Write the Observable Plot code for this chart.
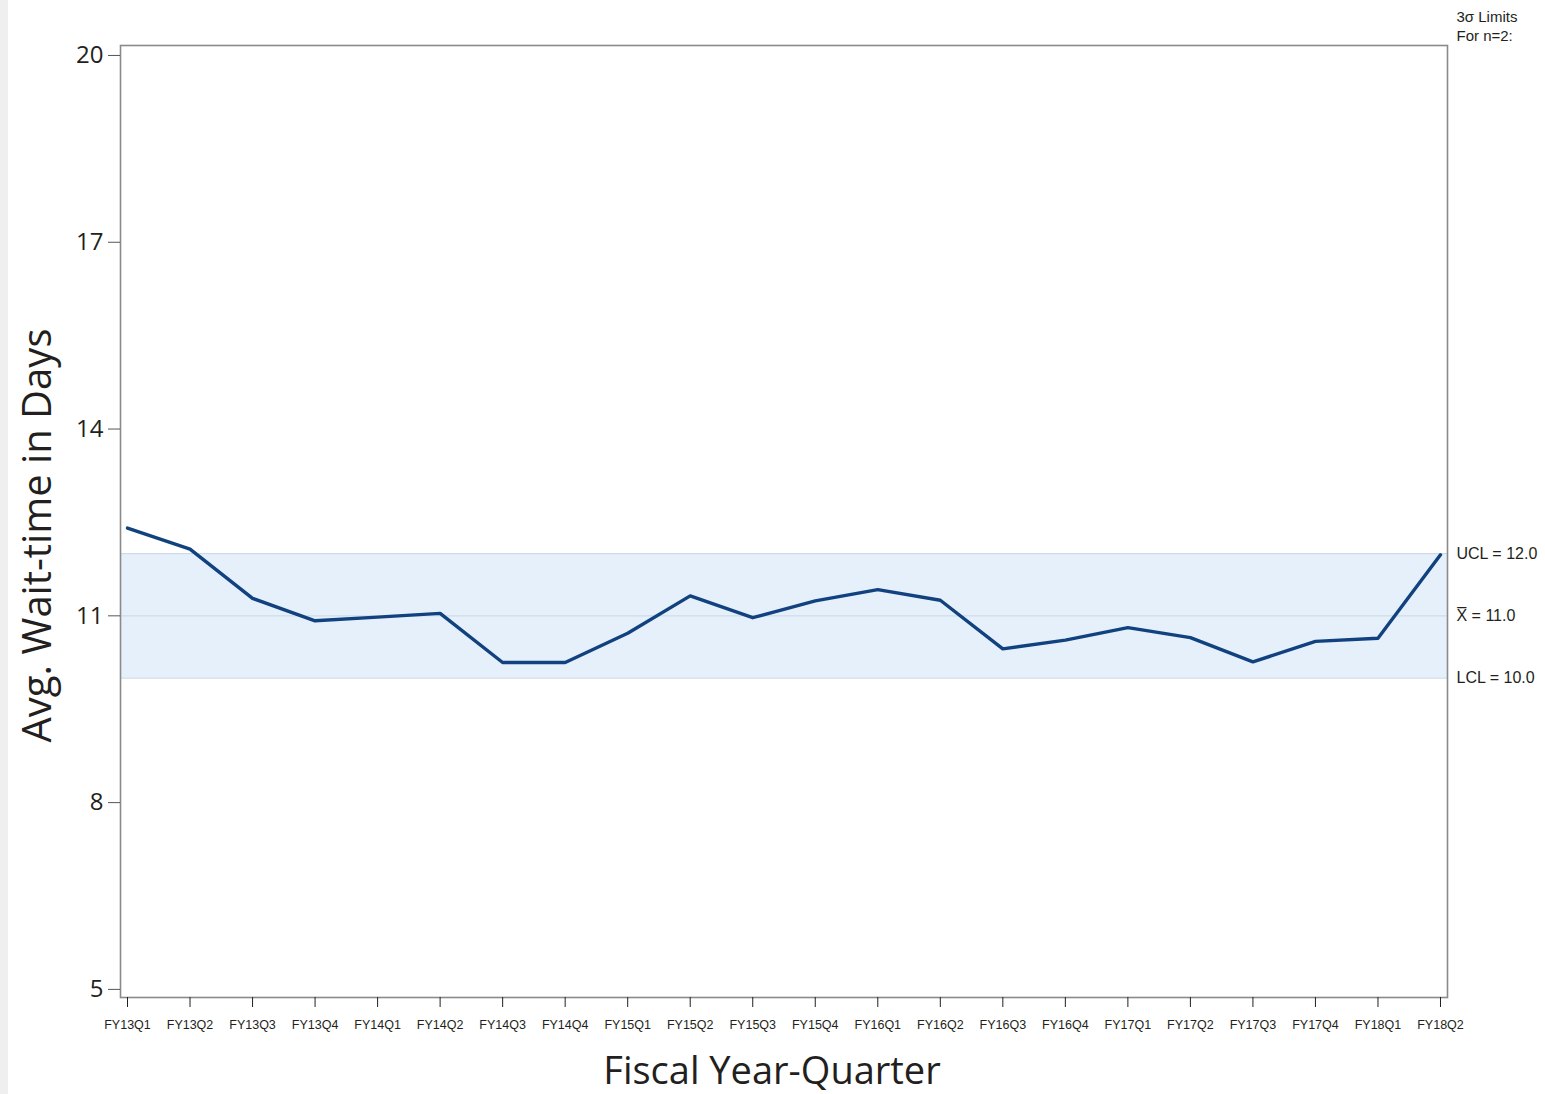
<!DOCTYPE html>
<html>
<head>
<meta charset="utf-8">
<script src="https://cdn.jsdelivr.net/npm/d3@7"></script>
<script src="https://cdn.jsdelivr.net/npm/@observablehq/plot@0.6"></script>
<style>
  html, body { margin: 0; padding: 0; background: #ffffff; }
  #strip { position: absolute; left: 0; top: 0; width: 8px; height: 1094px; background: #efefef; }
  #chart { position: absolute; left: 0; top: 0; }
</style>
</head>
<body>
<div id="chart"></div>
<div id="strip"></div>
<script>
const quarters = ["FY13Q1","FY13Q2","FY13Q3","FY13Q4","FY14Q1","FY14Q2","FY14Q3","FY14Q4","FY15Q1","FY15Q2","FY15Q3","FY15Q4","FY16Q1","FY16Q2","FY16Q3","FY16Q4","FY17Q1","FY17Q2","FY17Q3","FY17Q4","FY18Q1","FY18Q2"];
const waitDays = [12.41,12.07,11.28,10.92,10.98,11.04,10.25,10.25,10.72,11.32,10.97,11.24,11.42,11.25,10.47,10.61,10.81,10.65,10.26,10.59,10.64,11.98];
const yTicks = [5, 8, 11, 14, 17, 20];
const UCL = 12.0, MEAN = 11.0, LCL = 10.0;
const limitLabels = ["UCL = 12.0", "X\u0305 = 11.0", "LCL = 10.0"];
const limitValues = [UCL, MEAN, LCL];
const cornerNote = "3\u03c3 Limits\nFor n=2:";
const xTitle = "Fiscal Year-Quarter";
const yTitle = "Avg. Wait-time in Days";

const data = quarters.map((q, i) => ({q, v: waitDays[i]}));
const limits = limitValues.map((v, i) => ({v, label: limitLabels[i]}));

const narrow = "'Liberation Sans Narrow', 'Arial Narrow', sans-serif";
const sans = "'Open Sans', 'Noto Sans', sans-serif";

const chart = Plot.plot({
  width: 1545,
  height: 1094,
  marginLeft: 120,
  marginRight: 98,
  marginTop: 45,
  marginBottom: 97,
  style: {background: "transparent", color: "#231f20"},
  x: {type: "point", domain: quarters, padding: 0.112, round: false, label: null},
  y: {domain: [4.87, 20.16], label: null},
  marks: [
    Plot.rect([{}], {y1: LCL, y2: UCL, fill: "#e5f0fb"}),
    Plot.ruleY(limitValues, {stroke: "#cfdbe8", strokeWidth: 1.2}),
    Plot.line(data, {x: "q", y: "v", stroke: "#11427f", strokeWidth: 3.4, strokeLinejoin: "round"}),
    Plot.frame({stroke: "#8a8a8a", strokeWidth: 1.6}),
    Plot.axisY({ticks: yTicks, tickSize: 12, tickPadding: 5, fontSize: 24, fontFamily: sans, label: null, stroke: "#555"}),
    Plot.axisX({tickSize: 10, tickPadding: 13, fontSize: 12.5, fontFamily: narrow, label: null}),
    Plot.text(limits, {y: "v", text: "label", frameAnchor: "right", dx: 9, textAnchor: "start", fontSize: 16, fontFamily: narrow, fill: "#231f20"}),
    Plot.text([cornerNote], {frameAnchor: "top-right", dx: 9, dy: -37, textAnchor: "start", lineAnchor: "top", lineHeight: 1.25, fontSize: 15, fontFamily: narrow, fill: "#231f20"}),
    Plot.text([xTitle], {frameAnchor: "bottom", dx: -12, dy: 86, textAnchor: "middle", fontSize: 38, fontFamily: sans, fill: "#231f20"}),
    Plot.text([yTitle], {frameAnchor: "left", rotate: -90, dx: -82, dy: 14, textAnchor: "middle", fontSize: 40, fontFamily: sans, fill: "#231f20"})
  ]
});
document.getElementById("chart").appendChild(chart);
</script>
</body>
</html>
